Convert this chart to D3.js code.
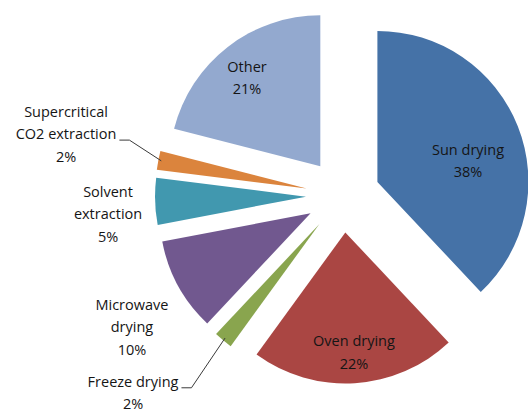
<!DOCTYPE html>
<html>
<head>
<meta charset="utf-8">
<script src="https://cdn.jsdelivr.net/npm/d3@7"></script>
<style>
  html, body { margin: 0; padding: 0; background: #fff; }
  svg { display: block; }
  text { font-family: "Open Sans", Lato, sans-serif; font-size: 14.5px; fill: #151515; }
</style>
</head>
<body>
<svg id="chart" width="528" height="409"></svg>
<script>
// ---- data ----
const categories = ["Sun drying", "Oven drying", "Freeze drying", "Microwave drying", "Solvent extraction", "Supercritical CO2 extraction", "Other"];
const values = [38, 22, 2, 10, 5, 2, 21];
const labelLines = [["Sun drying", "38%"], ["Oven drying", "22%"], ["Freeze drying", "2%"], ["Microwave", "drying", "10%"], ["Solvent", "extraction", "5%"], ["Supercritical", "CO2 extraction", "2%"], ["Other", "21%"]];
const colors = ["#4572A7", "#AA4643", "#89A54E", "#71588F", "#4198AF", "#DB843D", "#93A9CF"];

// ---- layout ----
const cx = 343, cy = 195.5, radius = 151, explode = 37;
const lineH = 22.5;
// label placement: polar offset from centre (angle delta in degrees, distance in px)
const labelPolar = [[6.2, 129.7], [-0.4, 157.4], [7.15, 288.3], [-3.2, 248.9], [-2.7, 235.7], [1.7, 283.7], [-1.45, 151.7]];
// leader lines: which text row they attach to
const leaderRow = [null, null, 0, null, null, 1, null];

const svg = d3.select("#chart");
const g = svg.append("g").attr("transform", `translate(${cx},${cy})`);

const pie = d3.pie().sort(null).value(d => d).startAngle(0).endAngle(2 * Math.PI);
const arcs = pie(values);
const arcGen = d3.arc().innerRadius(0).outerRadius(radius);
const polar = (a, r) => [r * Math.sin(a), -r * Math.cos(a)];
const rad = deg => deg * Math.PI / 180;

const slice = g.selectAll("g.slice").data(arcs).enter().append("g")
  .attr("class", "slice")
  .attr("transform", d => {
    const m = (d.startAngle + d.endAngle) / 2;
    const [x, y] = polar(m, explode);
    return `translate(${x},${y})`;
  });

slice.append("path")
  .attr("d", arcGen)
  .attr("fill", (d, i) => colors[i]);

// labels
const labelNodes = [];
arcs.forEach((d, i) => {
  const m = (d.startAngle + d.endAngle) / 2 + rad(labelPolar[i][0]);
  const [lx, ly] = polar(m, labelPolar[i][1]);
  const lines = labelLines[i];
  const t = g.append("text").attr("text-anchor", "middle");
  const spans = [];
  lines.forEach((s, k) => {
    const yk = ly + (k - (lines.length - 1) / 2) * lineH;
    spans.push({ span: t.append("tspan").attr("x", lx).attr("y", yk).attr("dy", "0.35em").text(s), x: lx, y: yk });
  });
  labelNodes.push(spans);
});

// leader lines
arcs.forEach((d, i) => {
  if (leaderRow[i] === null) return;
  const m = (d.startAngle + d.endAngle) / 2;
  const [ex, ey] = polar(m, explode);
  const [ox, oy] = polar(m, radius - 3);
  const p0 = [ex + ox, ey + oy];
  const row = labelNodes[i][leaderRow[i]];
  const w = row.span.node().getComputedTextLength();
  const yLine = row.y + 6;
  const x1 = row.x + w / 2 + 3;
  const x2 = x1 + 10;
  g.append("path")
    .attr("d", d3.line()([[x1, yLine], [x2, yLine], p0]))
    .attr("fill", "none")
    .attr("stroke", "#3a3a3a")
    .attr("stroke-width", 1);
});
</script>
</body>
</html>
